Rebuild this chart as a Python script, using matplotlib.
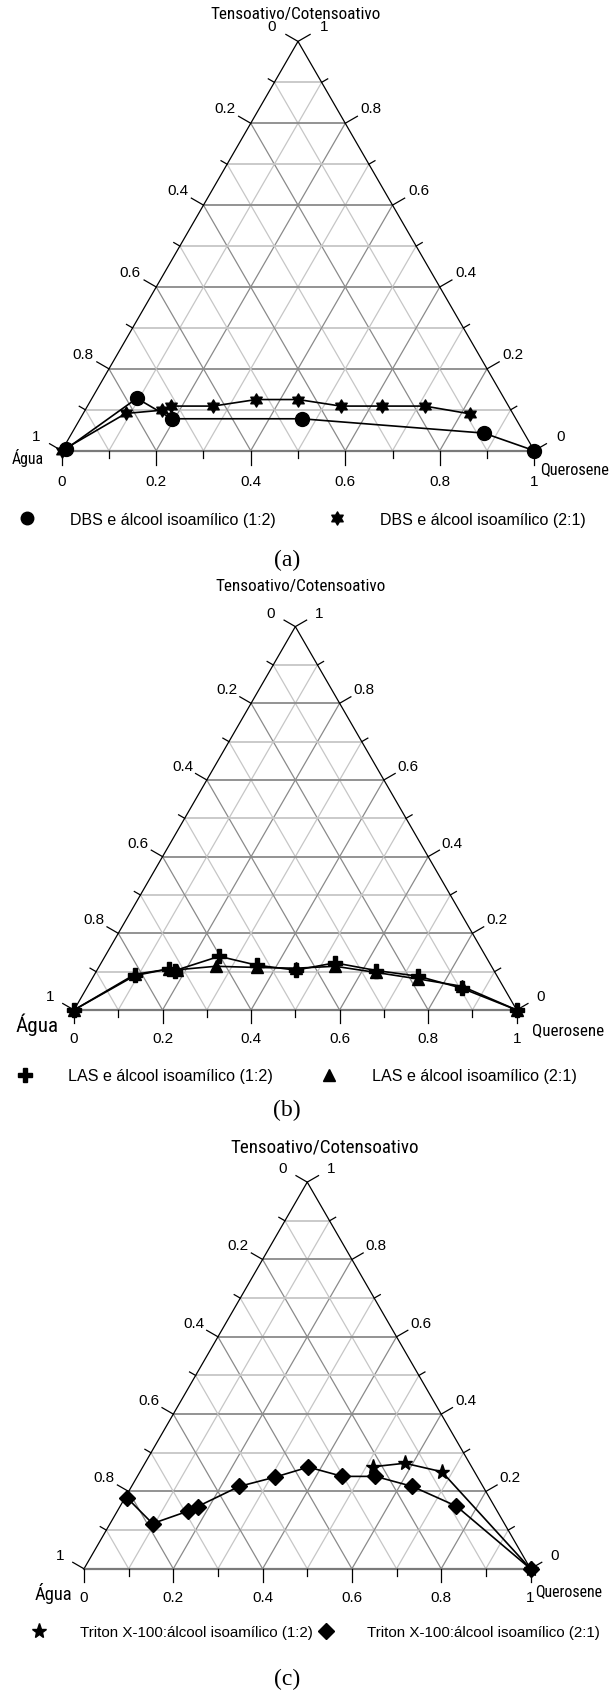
import numpy as np
import matplotlib
matplotlib.use("Agg")
import matplotlib.pyplot as plt
from matplotlib.path import Path
from matplotlib.lines import Line2D
from matplotlib import font_manager as fm
from matplotlib.font_manager import FontProperties

# ---------------- data (Querosene fraction q, Tensoativo/Cotensoativo fraction t) ----------------
# (a) DBS
dbs12_q = [0.007, 0.095, 0.194, 0.469, 0.872, 1.0]
dbs12_t = [0.004, 0.128, 0.078, 0.078, 0.043, 0.0]
dbs21_q = [0.0, 0.090, 0.163, 0.177, 0.266, 0.349, 0.438, 0.536, 0.624, 0.714, 0.819]
dbs21_t = [0.0, 0.091, 0.099, 0.109, 0.109, 0.125, 0.125, 0.109, 0.109, 0.109, 0.090]
# (b) LAS
las12_q = [0.0, 0.093, 0.160, 0.177, 0.258, 0.354, 0.449, 0.528, 0.631, 0.734, 0.847, 1.0]
las12_t = [0.0, 0.090, 0.107, 0.103, 0.140, 0.117, 0.104, 0.123, 0.103, 0.088, 0.057, 0.0]
las21_q = [0.0, 0.091, 0.162, 0.181, 0.263, 0.357, 0.446, 0.533, 0.633, 0.737, 0.845, 1.0]
las21_t = [0.0, 0.093, 0.107, 0.105, 0.114, 0.111, 0.109, 0.114, 0.098, 0.081, 0.062, 0.0]
# (c) Triton X-100
tx12_q = [0.516, 0.582, 0.676, 1.0]
tx12_t = [0.264, 0.273, 0.251, 0.0]
tx21_q = [0.004, 0.095, 0.158, 0.174, 0.241, 0.309, 0.371, 0.459, 0.533, 0.629, 0.753, 1.0]
tx21_t = [0.184, 0.117, 0.149, 0.161, 0.213, 0.237, 0.263, 0.239, 0.239, 0.213, 0.162, 0.0]

tick_values = [0.0, 0.1, 0.2, 0.3, 0.4, 0.5, 0.6, 0.7, 0.8, 0.9, 1.0]
title_top = "Tensoativo/Cotensoativo"
label_left = "Água"
label_right = "Querosene"
legend_a = ["DBS e álcool isoamílico (1:2)", "DBS e álcool isoamílico (2:1)"]
legend_b = ["LAS e álcool isoamílico (1:2)", "LAS e álcool isoamílico (2:1)"]
legend_c = ["Triton X-100:álcool isoamílico (1:2)", "Triton X-100:álcool isoamílico (2:1)"]
panel_tags = ["(a)", "(b)", "(c)"]

# ---------------- figure ----------------
FW, FH, DPI = 613, 1699, 100
fig = plt.figure(figsize=(FW / DPI, FH / DPI), dpi=DPI)
fig.patch.set_facecolor("white")


def find_narrow():
    entries = fm.fontManager.ttflist

    def regular(e):
        return e.style == "normal" and (e.weight in (400, "normal", "regular", "book"))

    for key, sc in (("Liberation Sans Narrow", 1.0), ("Arial Narrow", 1.0),
                    ("Roboto Condensed", 0.95), ("Open Sans Condensed", 0.95)):
        for e in entries:
            if e.name == key and regular(e):
                return e.fname, sc
    for e in entries:
        if e.name.startswith("DejaVu Sans") and "Mono" not in e.name and regular(e) and \
                ("condensed" in str(e.stretch).lower() or "Condensed" in e.fname):
            return e.fname, 0.84
    return None, 0.88


NARROW_FILE, NSC = find_narrow()
SANS = "Liberation Sans"
SERIF = "Liberation Serif"


def nprop(size):
    if NARROW_FILE:
        return FontProperties(fname=NARROW_FILE, size=size * NSC)
    return FontProperties(family=SANS, size=size * NSC)


S3 = np.sqrt(3) / 2
hexagram = Path.unit_regular_star(6, 0.57735)


def tern(q, t):
    q = np.asarray(q, float)
    t = np.asarray(t, float)
    return q + t / 2, t * S3


def make_panel(xL, xR, yb, top, bot):
    W = xR - xL
    ax = fig.add_axes([0, 1 - bot / FH, 1, (bot - top) / FH])
    ax.set_xlim(-xL / W, (FW - xL) / W)
    ax.set_ylim((yb - bot) / W, (yb - top) / W)
    ax.axis("off")
    return ax, W


def px(ax_info, x, y):
    xL, yb, W = ax_info
    return (x - xL) / W, (yb - y) / W


def draw_frame(ax, W, tick_major=14, tick_minor=7, lab_gap=16):
    maj_c, min_c = "#8a8a8a", "#c6c6c6"
    for k in range(1, 10):
        v = k / 10
        c = maj_c if k % 2 == 0 else min_c
        x, y = tern([0, 1 - v], [v, v])
        ax.plot(x, y, color=c, lw=1.3, zorder=1, solid_capstyle="butt")
        x, y = tern([v, v], [0, 1 - v])
        ax.plot(x, y, color=c, lw=0.9, zorder=1)
        x, y = tern([1 - v, 0], [0, 1 - v])
        ax.plot(x, y, color=c, lw=0.9, zorder=1)
    x, y = tern([0, 0, 1], [0, 1, 0])
    ax.plot(x, y, color="black", lw=0.9, zorder=2)
    x, y = tern([0, 1], [0, 0])
    ax.plot(x, y, color="#7a7a7a", lw=1.6, zorder=2)
    dirs = {
        "left": np.array([-S3, 0.5]),
        "right": np.array([S3, 0.5]),
        "bottom": np.array([0.0, -1.0]),
    }
    for i, v in enumerate(tick_values):
        major = i % 2 == 0
        L = (tick_major if major else tick_minor) / W
        for side in ("left", "right", "bottom"):
            if side == "left":
                p = np.array(tern(0, v), float)
                val = 1 - v
            elif side == "right":
                p = np.array(tern(1 - v, v), float)
                val = v
            else:
                p = np.array(tern(v, 0), float)
                val = v
            d = dirs[side]
            e = p + L * d
            ax.plot([p[0], e[0]], [p[1], e[1]], color="black", lw=0.9, zorder=2)
            if major:
                c = p + (tick_major + lab_gap) / W * d
                txt = "%g" % round(val, 1)
                ax.text(c[0], c[1], txt, ha="center", va="center", fontsize=11,
                        family=SANS, color="black")


def series(ax, q, t, marker, ms):
    x, y = tern(q, t)
    ax.plot(x, y, color="black", lw=1.2, marker=marker, ms=ms, mfc="black",
            mec="black", zorder=5, clip_on=False)


def legend(handles, labels, x_left, y, fs, hp, cs):
    fig.legend(handles, labels, ncol=2, loc="center left",
               bbox_to_anchor=(x_left / FW, 1 - y / FH), bbox_transform=fig.transFigure,
               frameon=False, handlelength=1.0, handletextpad=hp, columnspacing=cs,
               borderpad=0, borderaxespad=0,
               prop={"family": SANS, "size": fs})


def h(marker, ms):
    return Line2D([], [], color="black", marker=marker, ms=ms, linestyle="none",
                  mfc="black", mec="black")


def labels(ax, info, title_xy, title_fs, left_xy, left_fs, right_xy, right_fs, tag, tag_xy):
    ax.text(*px(info, *title_xy), title_top, ha="center", va="center",
            fontproperties=nprop(title_fs))
    ax.text(*px(info, *left_xy), label_left, ha="center", va="center",
            fontproperties=nprop(left_fs))
    ax.text(*px(info, *right_xy), label_right, ha="center", va="center",
            fontproperties=nprop(right_fs))
    ax.text(*px(info, *tag_xy), tag, ha="center", va="center",
            family=SERIF, fontsize=17)


# ---------------- panel (a) ----------------
info = (61.7, 451.7, 534.3 - 61.7)
axA, W = make_panel(61.7, 534.3, 451.7, 0, 566)
draw_frame(axA, W)
series(axA, dbs21_q, dbs21_t, hexagram, 9.5)
series(axA, dbs12_q, dbs12_t, "o", 10)
labels(axA, info, (296, 15), 13, (27.5, 458), 12, (575, 470), 12.4, panel_tags[0], (287, 560))
legend([h("o", 9), h(hexagram, 9.5)], legend_a, 18.6, 520, 11.5, 2.19, 3.36)

# ---------------- panel (b) ----------------
info = (74.0, 1011.0, 516.7 - 74.0)
axB, W = make_panel(74.0, 516.7, 1011.0, 566, 1130)
draw_frame(axB, W, 13, 7, 15)
series(axB, las21_q, las21_t, "^", 8.5)
series(axB, las12_q, las12_t, "P", 9.5)
labels(axB, info, (301, 587), 13, (37, 1025), 16, (568, 1031), 12.8, panel_tags[1], (287, 1110))
legend([h("P", 9.5), h("^", 8.5)], legend_b, 17.3, 1077, 11.6, 2.17, 2.97)

# ---------------- panel (c) ----------------
info = (84.0, 1569.8, 530.5 - 84.0)
axC, W = make_panel(84.0, 530.5, 1569.8, 1130, 1699)
draw_frame(axC, W, 13, 7, 15)
series(axC, tx12_q, tx12_t, "*", 11)
series(axC, tx21_q, tx21_t, "D", 8)
labels(axC, info, (325, 1148), 14.4, (53.5, 1594), 14, (568.5, 1592), 12, panel_tags[2], (287, 1679))
legend([h("*", 11), h("D", 8)], legend_c, 31.4, 1633, 10.9, 2.2, 0.4)

fig.savefig("out.png", dpi=DPI, facecolor="white")
